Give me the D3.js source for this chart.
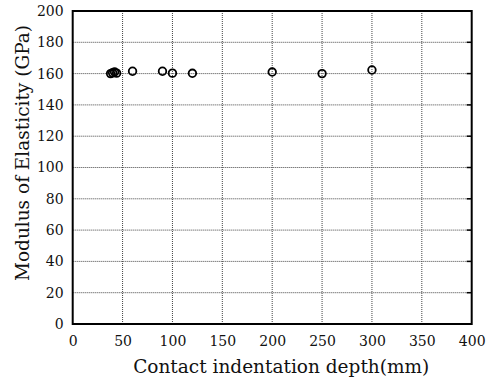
<!DOCTYPE html>
<html>
<head>
<meta charset="utf-8">
<script src="https://cdn.jsdelivr.net/npm/d3@7"></script>
<style>
  html, body { margin: 0; padding: 0; background: #fff; }
  svg { display: block; }
</style>
</head>
<body>
<div id="chart"></div>
<script>
// values
const depth = [38, 40, 42, 44, 60, 90, 100, 120, 200, 250, 300];
const modulus = [160, 160.5, 161, 160.3, 161.5, 161.5, 160.3, 160.2, 161, 160, 162.3];
const xTicks = [0, 50, 100, 150, 200, 250, 300, 350, 400];
const yTicks = [0, 20, 40, 60, 80, 100, 120, 140, 160, 180, 200];
const xTitle = "Contact indentation depth(mm)";
const yTitle = "Modulus of Elasticity (GPa)";

const W = 490, H = 382;
const margin = { top: 11, right: 18.3, bottom: 58, left: 72.7 };
const width = W - margin.left - margin.right;
const height = H - margin.top - margin.bottom;
const font = "'DejaVu Serif', 'Liberation Serif', serif";

const svg = d3.select("#chart").append("svg")
	.attr("width", W)
	.attr("height", H)
	.style("font-family", font);

const g = svg.append("g").attr("transform", `translate(${margin.left},${margin.top})`);

const x = d3.scaleLinear().domain([0, 400]).range([0, width]);
const y = d3.scaleLinear().domain([0, 200]).range([height, 0]);

// dotted grid
g.append("g")
	.selectAll("line")
	.data(xTicks.slice(1, -1))
	.join("line")
	.attr("x1", (d) => x(d)).attr("x2", (d) => x(d))
	.attr("y1", 0).attr("y2", height)
	.attr("stroke", "#444").attr("stroke-width", 1).attr("stroke-dasharray", "1,1");

g.append("g")
	.selectAll("line")
	.data(yTicks.slice(1, -1))
	.join("line")
	.attr("x1", 0).attr("x2", width)
	.attr("y1", (d) => y(d)).attr("y2", (d) => y(d))
	.attr("stroke", "#444").attr("stroke-width", 1).attr("stroke-dasharray", "1,1");

// axes (labels only, frame drawn below)
const xAxis = g.append("g")
	.attr("transform", `translate(0,${height})`)
	.call(d3.axisBottom(x).tickValues(xTicks).tickSize(0).tickPadding(12));
const yAxis = g.append("g")
	.call(d3.axisLeft(y).tickValues(yTicks).tickSize(0).tickPadding(9));

[xAxis, yAxis].forEach((a) => {
	a.select(".domain").remove();
	a.selectAll("text").attr("font-family", font).attr("font-size", 14).attr("fill", "#111");
});

// small inward ticks on the right border
g.append("g")
	.selectAll("line")
	.data(yTicks.slice(1, -1))
	.join("line")
	.attr("x1", width - 5).attr("x2", width)
	.attr("y1", (d) => y(d)).attr("y2", (d) => y(d))
	.attr("stroke", "#000").attr("stroke-width", 1.5);

// frame
g.append("rect")
	.attr("x", 0).attr("y", 0)
	.attr("width", width).attr("height", height)
	.attr("fill", "none").attr("stroke", "#000").attr("stroke-width", 2);

// points
g.append("g")
	.selectAll("circle")
	.data(depth.map((d, i) => ({ x: d, y: modulus[i] })))
	.join("circle")
	.attr("cx", (d) => x(d.x))
	.attr("cy", (d) => y(d.y))
	.attr("r", 3.8)
	.attr("fill", "none")
	.attr("stroke", "#000")
	.attr("stroke-width", 1.8);

// titles
svg.append("text")
	.attr("x", margin.left + width / 2 + 9)
	.attr("y", 373)
	.attr("text-anchor", "middle")
	.attr("font-size", 18.5)
	.attr("fill", "#111")
	.text(xTitle);

svg.append("text")
	.attr("transform", `translate(29,${153}) rotate(-90)`)
	.attr("text-anchor", "middle")
	.attr("font-size", 18.5)
	.attr("fill", "#111")
	.text(yTitle);
</script>
</body>
</html>
